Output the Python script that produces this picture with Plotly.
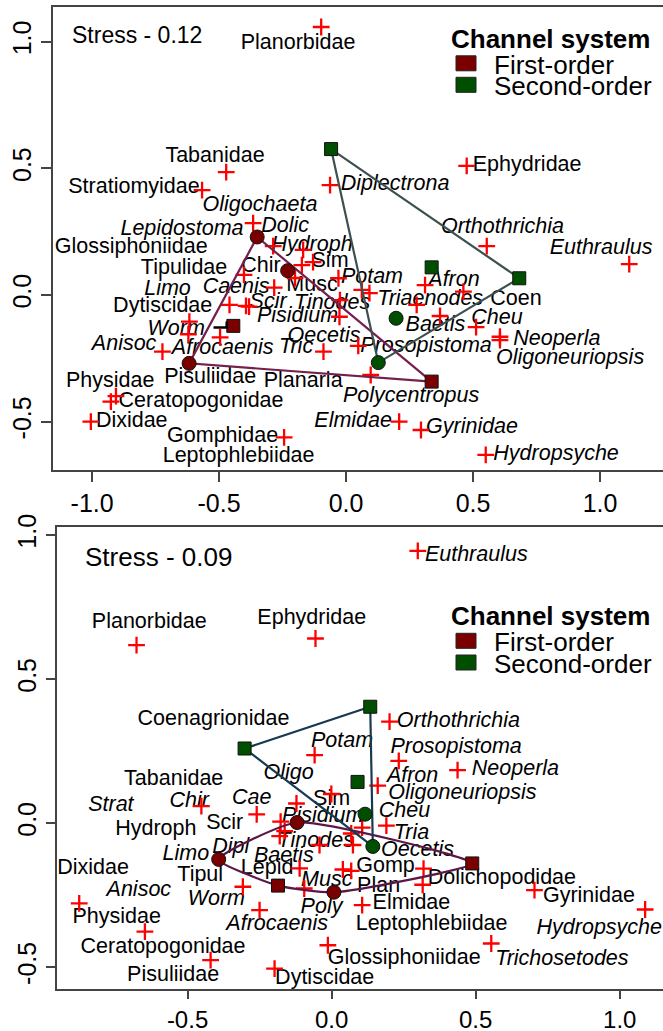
import plotly.graph_objects as go

FONT = "Liberation Sans, Arial, sans-serif"
W, H = 663, 1031

# ---------------- Top panel (Stress 0.12) ----------------
top_plus_x = [-0.098, -0.472, -0.567, -0.063, 0.475, -0.366, -0.287, -0.169, -0.130, -0.174,
              0.554, 1.115, -0.402, -0.201, -0.030, 0.311, -0.283, 0.062, 0.092, 0.462,
              -0.024, 0.278, -0.459, -0.394, -0.382, -0.026, 0.370, 0.512, 0.606, 0.606,
              -0.617, -0.621, -0.496, 0.048, -0.723, -0.089, 0.097, -0.906, -0.926, -1.005,
              0.209, 0.295, -0.244, 0.550]
top_plus_y = [1.058, 0.485, 0.414, 0.434, 0.510, 0.284, 0.193, 0.178, 0.130, 0.118,
              0.193, 0.122, 0.079, 0.067, 0.066, 0.039, 0.029, 0.020, 0.007, 0.013,
              -0.020, -0.039, -0.039, -0.043, -0.046, -0.086, -0.083, -0.127, -0.165, -0.178,
              -0.105, -0.155, -0.167, -0.201, -0.224, -0.224, -0.316, -0.399, -0.421, -0.500,
              -0.500, -0.533, -0.562, -0.631]

top_labels = ["Planorbidae", "Tabanidae", "Stratiomyidae", "Oligochaeta", "Dolic", "Lepidostoma",
              "Glossiphoniidae", "Hydroph", "Diplectrona", "Ephydridae", "Orthothrichia", "Euthraulus",
              "Sim", "Chir", "Tipulidae", "Musc", "Caenis", "Limo", "Potam", "Afron", "Coen",
              "Triaenodes", "Tinodes", "Scir", "Dytiscidae", "Pisidium", "Cheu", "Baetis", "Worm",
              "Oecetis", "Neoperla", "Prosopistoma", "Anisoc", "Afrocaenis", "Tric", "Oligoneuriopsis",
              "Pisuliidae", "Planaria", "Physidae", "Polycentropus", "Ceratopogonidae", "Dixidae",
              "Elmidae", "Gyrinidae", "Gomphidae", "Hydropsyche", "Leptophlebiidae"]
top_label_x = [-0.189, -0.516, -0.835, -0.339, -0.240, -0.646,
               -0.846, -0.134, 0.193, 0.713, 0.616, 1.004,
               -0.063, -0.335, -0.638, -0.134, -0.433, -0.703, 0.102, 0.425, 0.669,
               0.331, -0.055, -0.307, -0.722, -0.191, 0.594, 0.352, -0.669,
               -0.087, 0.830, 0.315, -0.874, -0.486, -0.197, 0.882,
               -0.535, -0.169, -0.929, 0.256, -0.571, -0.844,
               0.028, 0.496, -0.486, 0.827, -0.423]
top_label_y = [0.994, 0.545, 0.422, 0.351, 0.268, 0.260,
               0.185, 0.193, 0.434, 0.509, 0.266, 0.184,
               0.131, 0.110, 0.105, 0.036, 0.028, 0.022, 0.067, 0.056, -0.017,
               -0.020, -0.036, -0.030, -0.046, -0.086, -0.092, -0.122, -0.138,
               -0.165, -0.178, -0.204, -0.197, -0.210, -0.209, -0.250,
               -0.325, -0.342, -0.342, -0.401, -0.421, -0.500,
               -0.500, -0.522, -0.559, -0.631, -0.640]
top_italic = [False, False, False, True, True, True,
              False, True, True, False, True, True,
              False, False, False, False, True, True, True, True, False,
              True, True, True, False, True, True, True, True,
              True, True, True, True, True, True, True,
              False, False, False, True, False, False,
              True, True, False, True, False]

top_first_circle_x = [-0.350, -0.230, -0.618]
top_first_circle_y = [0.229, 0.096, -0.270]
top_first_square_x = [-0.444, 0.337]
top_first_square_y = [-0.122, -0.342]
top_second_square_x = [-0.059, 0.337, 0.682]
top_second_square_y = [0.576, 0.109, 0.066]
top_second_circle_x = [0.197, 0.127]
top_second_circle_y = [-0.092, -0.267]
top_first_hull_x = [-0.350, -0.618, 0.337, -0.350]
top_first_hull_y = [0.229, -0.270, -0.342, 0.229]
top_second_hull_x = [-0.059, 0.682, 0.127, -0.059]
top_second_hull_y = [0.576, 0.066, -0.267, 0.576]
top_bracket_x = [-0.522, -0.470, -0.470]
top_bracket_y = [-0.128, -0.128, -0.105]

# ---------------- Bottom panel (Stress 0.09) ----------------
bot_plus_x = [-0.677, -0.056, 0.299, -0.059, 0.201, 0.233, 0.437, 0.160, -0.452, -0.001,
              -0.122, -0.260, -0.177, -0.163, -0.180, -0.042, 0.068, 0.074, 0.106, 0.190,
              0.039, 0.068, 0.319, 0.316, -0.111, -0.095, -0.308, 0.106, -0.250, 0.704,
              1.088, -0.876, -0.648, 0.554, -0.013, -0.420, -0.198]
bot_plus_y = [0.618, 0.641, 0.945, 0.236, 0.352, 0.216, 0.184, 0.130, 0.059, 0.101,
              0.068, 0.030, 0.005, -0.028, -0.045, -0.076, -0.036, -0.076, -0.016, -0.009,
              -0.161, -0.166, -0.158, -0.214, -0.157, -0.227, -0.221, -0.285, -0.302, -0.233,
              -0.300, -0.279, -0.377, -0.418, -0.424, -0.476, -0.505]

bot_labels = ["Planorbidae", "Ephydridae", "Euthraulus", "Coenagrionidae", "Potam", "Orthothrichia",
              "Prosopistoma", "Neoperla", "Afron", "Oligoneuriopsis", "Tabanidae", "Oligo", "Strat",
              "Chir", "Cae", "Sim", "Cheu", "Pisidium", "Scir", "Hydroph", "Tria", "Tinodes", "Dipl",
              "Oecetis", "Limo", "Baetis", "Gomp", "Dixidae", "Lepid", "Tipul", "Dolichopodidae",
              "Musc", "Plan", "Anisoc", "Gyrinidae", "Worm", "Elmidae", "Poly", "Physidae",
              "Afrocaenis", "Leptophlebiidae", "Hydropsyche", "Ceratopogonidae", "Glossiphoniidae",
              "Trichosetodes", "Pisuliidae", "Dytiscidae"]
bot_label_x = [-0.633, -0.069, 0.502, -0.410, 0.036, 0.440,
               0.432, 0.638, 0.281, 0.454, -0.548, -0.149, -0.766,
               -0.494, -0.277, 0.000, 0.253, -0.031, -0.371, -0.610, 0.277, -0.055, -0.350,
               0.298, -0.506, -0.166, 0.187, -0.828, -0.224, -0.456, 0.591,
               -0.017, 0.163, -0.669, 0.893, -0.400, 0.277, -0.035, -0.746,
               -0.189, 0.347, 0.929, -0.585, 0.252,
               0.799, -0.550, -0.024]
bot_label_y = [0.695, 0.711, 0.928, 0.360, 0.282, 0.352,
               0.261, 0.186, 0.161, 0.103, 0.152, 0.173, 0.059,
               0.074, 0.086, 0.080, 0.039, 0.022, -0.003, -0.022, -0.036, -0.065, -0.084,
               -0.096, -0.111, -0.117, -0.152, -0.157, -0.157, -0.181, -0.192,
               -0.198, -0.221, -0.236, -0.256, -0.265, -0.279, -0.293, -0.329,
               -0.351, -0.351, -0.366, -0.432, -0.470,
               -0.473, -0.528, -0.539]
bot_italic = [False, False, True, False, True, True,
              True, True, True, True, False, True, True,
              True, True, False, True, True, False, False, True, True, True,
              True, True, True, False, False, False, False, False,
              True, False, True, False, True, False, True, False,
              True, False, True, False, False,
              True, False, False]

bot_first_circle_x = [-0.392, -0.120, 0.008]
bot_first_circle_y = [-0.126, 0.002, -0.240]
bot_first_square_x = [0.488, -0.186]
bot_first_square_y = [-0.140, -0.217]
bot_second_square_x = [-0.302, 0.134, 0.090]
bot_second_square_y = [0.259, 0.404, 0.143]
bot_second_circle_x = [0.116, 0.143]
bot_second_circle_y = [0.031, -0.081]
bot_first_hull_x = [-0.392, -0.120, 0.488, 0.008, -0.186, -0.392]
bot_first_hull_y = [-0.126, 0.002, -0.140, -0.240, -0.217, -0.126]
bot_second_hull_x = [-0.302, 0.134, 0.143, -0.302]
bot_second_hull_y = [0.259, 0.404, -0.081, 0.259]

MAROON = "#7a0000"
GREEN = "#004f00"

fig = go.Figure()


def fmt(names, ital):
    return [f"<i>{n}</i>" if it else n for n, it in zip(names, ital)]


def add_panel(xa, ya, lab, lx, ly, ital, px, py, fh, sh, fcx, fcy, fsx, fsy, scx, scy, ssx, ssy,
              fcol, scol, fshape="linear"):
    fig.add_trace(go.Scatter(x=lx, y=ly, text=fmt(lab, ital), mode="text",
                             textposition="middle center",
                             textfont=dict(family=FONT, size=21.5, color="black"),
                             xaxis=xa, yaxis=ya, hoverinfo="skip", showlegend=False))
    fig.add_trace(go.Scatter(x=px, y=py, mode="markers",
                             marker=dict(symbol="cross-thin", size=12,
                                         line=dict(color="#ff0000", width=2.3)),
                             xaxis=xa, yaxis=ya, showlegend=False))
    fig.add_trace(go.Scatter(x=fh[0], y=fh[1], mode="lines",
                             line=dict(color=fcol, width=2.2, shape=fshape, smoothing=0.5),
                             xaxis=xa, yaxis=ya, showlegend=False))
    fig.add_trace(go.Scatter(x=sh[0], y=sh[1], mode="lines",
                             line=dict(color=scol, width=2.2),
                             xaxis=xa, yaxis=ya, showlegend=False))
    for gx, gy, sym, col in [(fcx, fcy, "circle", MAROON), (fsx, fsy, "square", MAROON),
                             (scx, scy, "circle", GREEN), (ssx, ssy, "square", GREEN)]:
        fig.add_trace(go.Scatter(x=gx, y=gy, mode="markers",
                                 marker=dict(symbol=sym, size=14 if sym == "circle" else 13,
                                             color=col, line=dict(color="#111", width=1)),
                                 xaxis=xa, yaxis=ya, showlegend=False))


add_panel("x", "y", top_labels, top_label_x, top_label_y, top_italic, top_plus_x, top_plus_y,
          (top_first_hull_x, top_first_hull_y), (top_second_hull_x, top_second_hull_y),
          top_first_circle_x, top_first_circle_y, top_first_square_x, top_first_square_y,
          top_second_circle_x, top_second_circle_y, top_second_square_x, top_second_square_y,
          "#741f4c", "#3d5050")
fig.add_trace(go.Scatter(x=top_bracket_x, y=top_bracket_y, mode="lines",
                         line=dict(color="black", width=2.5), xaxis="x", yaxis="y",
                         showlegend=False))
add_panel("x2", "y2", bot_labels, bot_label_x, bot_label_y, bot_italic, bot_plus_x, bot_plus_y,
          (bot_first_hull_x, bot_first_hull_y), (bot_second_hull_x, bot_second_hull_y),
          bot_first_circle_x, bot_first_circle_y, bot_first_square_x, bot_first_square_y,
          bot_second_circle_x, bot_second_circle_y, bot_second_square_x, bot_second_square_y,
          "#5c1748", "#173a52", fshape="spline")

top_ticks = [-1.0, -0.5, 0.0, 0.5, 1.0]
y_ticks = [-0.5, 0.0, 0.5, 1.0]
bot_xticks = [-0.5, 0.0, 0.5, 1.0]

axis_common = dict(showgrid=False, zeroline=False, showline=True, linecolor="#444", linewidth=1.5,
                   ticks="outside", tickwidth=1.5, tickcolor="#444", automargin=False)


def tt(v):
    return [f"{t:.1f}" for t in v]


def tfont(size):
    return dict(family=FONT, size=size, color="black")


fig.update_layout(
    template="none",
    width=W, height=H, margin=dict(l=0, r=0, t=0, b=0, pad=0),
    plot_bgcolor="white", paper_bgcolor="white", showlegend=False,
    xaxis=dict(domain=[53 / W, 1.0], range=[-1.154, 1.248], anchor="y", mirror=True,
               tickvals=top_ticks, ticktext=tt(top_ticks), ticklen=10, tickfont=tfont(25),
               **axis_common),
    yaxis=dict(domain=[1 - 470 / H, 1 - 7 / H], range=[-0.691, 1.137], anchor="x",
               tickvals=y_ticks, ticktext=tt(y_ticks), tickangle=-90, ticklen=10,
               tickfont=tfont(25), **axis_common),
    xaxis2=dict(domain=[57.3 / W, 1.0], range=[-0.952, 1.150], anchor="y2", mirror=True,
                tickvals=bot_xticks, ticktext=tt(bot_xticks), ticklen=8, tickfont=tfont(24),
                **axis_common),
    yaxis2=dict(domain=[1 - 989.3 / H, 1 - 527.3 / H], range=[-0.577, 1.027], anchor="x2",
                tickvals=y_ticks, ticktext=tt(y_ticks), tickangle=-90, ticklen=10,
                tickfont=tfont(25), **axis_common),
)

# Stress annotations
fig.add_annotation(x=-1.087, y=1.026, xref="x", yref="y", text="Stress - 0.12", showarrow=False,
                   xanchor="left", yanchor="middle", font=dict(family=FONT, size=23, color="black"))
fig.add_annotation(x=-0.864, y=0.925, xref="x2", yref="y2", text="Stress - 0.09", showarrow=False,
                   xanchor="left", yanchor="middle", font=dict(family=FONT, size=26, color="black"))

# Legends (pixel layout converted to paper coords)
legend_title = "Channel system"
legend_items = ["First-order", "Second-order"]
legend_colors = [MAROON, GREEN]
for title_y, item_ys in [(39.3, [63.3, 84.8]), (616.0, [640.8, 662.5])]:
    fig.add_annotation(x=550 / W, y=1 - title_y / H, xref="paper", yref="paper",
                       text=f"<b>{legend_title}</b>", showarrow=False, xanchor="center",
                       yanchor="middle", font=dict(family=FONT, size=26, color="black"))
    for name, col, iy in zip(legend_items, legend_colors, item_ys):
        fig.add_shape(type="rect", xref="paper", yref="paper",
                      x0=456 / W, x1=476 / W, y0=1 - (iy - 7.5) / H, y1=1 - (iy + 7.5) / H,
                      fillcolor=col, line=dict(color="#222", width=1))
        fig.add_annotation(x=492 / W, y=1 - (iy + 1.5) / H, xref="paper", yref="paper",
                           text=name, showarrow=False, xanchor="left", yanchor="middle",
                           font=dict(family=FONT, size=26, color="black"))

fig.write_html("out.html")
